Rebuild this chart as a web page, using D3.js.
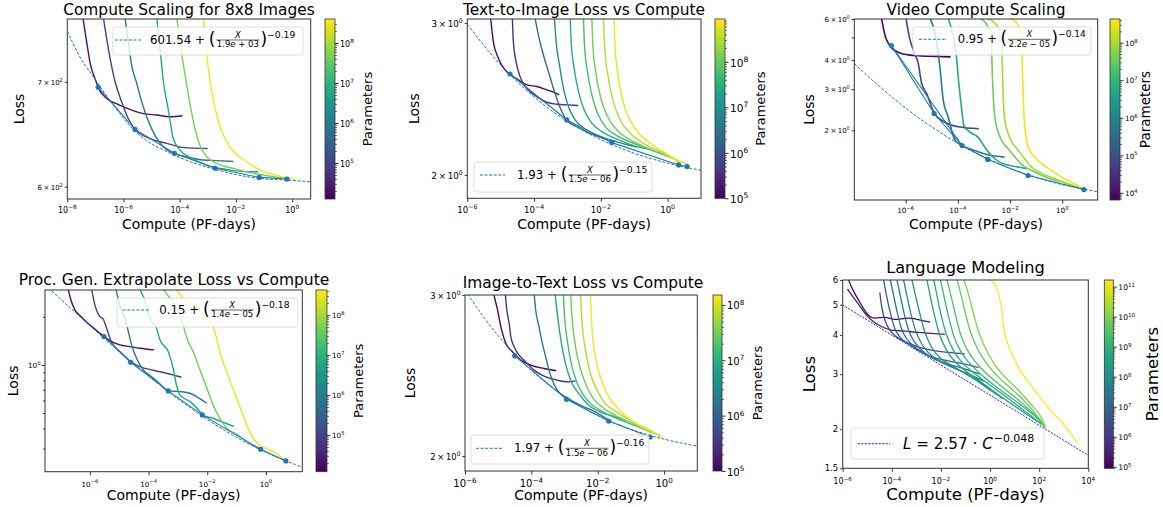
<!DOCTYPE html>
<html>
<head>
<meta charset="utf-8">
<script src="https://cdn.jsdelivr.net/npm/d3@7/dist/d3.min.js"></script>
<style>
  body { margin: 0; background: #fff; }
  text { font-family: "DejaVu Sans", sans-serif; fill: #000; white-space: pre; }
</style>
</head>
<body>
<svg id="fig" width="1163" height="507"></svg>
<script>
// every point is [log10(compute, PF-days), loss]

// --- 8x8 images
const p1Params = [2e4, 1e5, 8e5, 6.3e6, 5e7, 3.2e8];
const p1Runs = [
  [[-7.45,770],[-7.31,742],[-7.17,717],[-7.01,703],[-6.90,694],[-6.60,683],[-6.18,677],[-5.71,671.5],[-5.29,668],[-4.82,666.6],[-4.35,665],[-3.90,666]],
  [[-6.72,770],[-6.54,735],[-6.30,700],[-6.07,680],[-5.83,663],[-5.59,652.7],[-5.06,644],[-4.46,639.5],[-3.99,636],[-3.51,635],[-3.01,634.7]],
  [[-5.95,770],[-5.83,742],[-5.71,717],[-5.53,698.5],[-5.35,679.6],[-5.15,663],[-4.88,647],[-4.58,636],[-4.19,630],[-3.75,627],[-3.16,624],[-2.68,623.5],[-2.09,622.7]],
  [[-4.82,770],[-4.70,735],[-4.58,700],[-4.40,671],[-4.23,644],[-3.99,633.2],[-3.57,625.5],[-3.04,619.4],[-2.33,615.5],[-1.62,613.4],[-1.20,613.4]],
  [[-4.11,770],[-3.99,742],[-3.81,706.9],[-3.63,676.6],[-3.46,653.6],[-3.28,637.8],[-3.04,627],[-2.68,620.9],[-2.09,616.4],[-1.38,611.9],[-0.67,608.9],[-0.07,606.8]],
  [[-3.16,770],[-3.06,735],[-2.92,700],[-2.68,666.6],[-2.45,647.3],[-2.21,636],[-1.97,629],[-1.62,622.4],[-1.44,619.4],[-1.14,614.9],[-0.67,610.9],[-0.19,608],[0.10,606.8]]
];
const p1Frontier = [[-6.90,694.3],[-5.59,652.7],[-4.19,630.2],[-2.74,616.5],[-1.17,608.3],[-0.19,606.8]];
const p1Fit = [[-8.0,754],[-7.55,726],[-7.07,705],[-6.48,681],[-5.59,651],[-4.19,628.6],[-2.74,615.5],[-1.17,607.4],[-0.19,605.9],[0.66,604.4]];
const p1XTicks = [1e-8, 1e-6, 1e-4, 1e-2, 1];
const p1YTicks = [600, 700];
const p1CTicks = [1e5, 1e6, 1e7, 1e8];

// --- text-to-image
const p2Params = [1.2e5, 3.9e5, 2.4e6, 9.3e6, 2.75e7, 5.75e7, 1.17e8, 2.95e8, 6.6e8];
const p2Runs = [
  [[-5.30,3.04],[-5.22,2.855],[-5.07,2.731],[-4.87,2.647],[-4.72,2.616],[-4.47,2.577],[-4.22,2.543],[-3.92,2.532],[-3.62,2.509],[-3.42,2.494],[-3.25,2.476]],
  [[-4.65,3.04],[-4.62,2.855],[-4.54,2.707],[-4.42,2.600],[-4.22,2.520],[-3.92,2.465],[-3.62,2.428],[-3.32,2.415],[-3.02,2.411],[-2.67,2.407]],
  [[-3.97,3.04],[-3.87,2.905],[-3.72,2.754],[-3.57,2.635],[-3.42,2.520],[-3.27,2.421],[-3.12,2.347],[-3.02,2.316],[-2.62,2.265],[-2.22,2.225],[-1.82,2.199],[-1.52,2.186]],
  [[-3.39,3.04],[-3.34,2.855],[-3.24,2.683],[-3.12,2.520],[-2.97,2.400],[-2.77,2.316],[-2.47,2.261],[-2.07,2.221],[-1.62,2.190],[-1.12,2.163],[-0.92,2.155]],
  [[-2.92,3.04],[-2.89,2.855],[-2.80,2.659],[-2.67,2.498],[-2.50,2.380],[-2.27,2.296],[-1.97,2.245],[-1.57,2.205],[-1.02,2.163],[-0.62,2.144]],
  [[-2.52,3.04],[-2.49,2.830],[-2.40,2.635],[-2.27,2.476],[-2.10,2.359],[-1.87,2.275],[-1.52,2.221],[-1.02,2.176],[-0.42,2.132],[-0.02,2.110]],
  [[-2.27,3.04],[-2.24,2.830],[-2.14,2.612],[-2.00,2.454],[-1.80,2.337],[-1.52,2.255],[-1.12,2.196],[-0.62,2.151],[-0.12,2.110],[0.18,2.091]],
  [[-1.92,3.04],[-1.89,2.830],[-1.79,2.612],[-1.64,2.443],[-1.42,2.316],[-1.12,2.235],[-0.72,2.176],[-0.22,2.129],[0.18,2.088],[0.38,2.063]],
  [[-1.60,3.04],[-1.57,2.805],[-1.47,2.589],[-1.32,2.421],[-1.10,2.306],[-0.82,2.225],[-0.42,2.163],[-0.02,2.114],[0.38,2.073],[0.68,2.050]]
];
const p2Frontier = [[-4.72,2.618],[-3.02,2.316],[-1.67,2.180],[0.33,2.054],[0.58,2.045]];
const p2Fit = [[-6,2.99],[-5.5,2.824],[-5,2.682],[-4.5,2.563],[-4,2.463],[-3.5,2.378],[-3,2.307],[-2.5,2.247],[-2,2.197],[-1.5,2.155],[-1,2.119],[-0.5,2.089],[0,2.064],[0.5,2.043],[1,2.025]];
const p2XTicks = [1e-6, 1e-4, 1e-2, 1];
const p2YTicks = [2, 3];
const p2CTicks = [1e5, 1e6, 1e7, 1e8];

// --- video
const p3Params = [8.1e3, 5.9e4, 5.5e5, 5e6, 3.7e7, 9.1e7, 3.4e8];
const p3Runs = [
  [[-6.93,6.05],[-6.78,5.05],[-6.61,4.62],[-6.29,4.32],[-5.91,4.21],[-5.40,4.17],[-4.89,4.15],[-4.28,4.13]],
  [[-5.99,6.05],[-5.85,4.97],[-5.66,4.28],[-5.52,3.88],[-5.39,3.18],[-5.20,2.88],[-4.90,2.36],[-4.51,2.17],[-3.99,2.07],[-3.20,2.03]],
  [[-5.07,6.05],[-4.88,5.22],[-4.69,3.75],[-4.56,2.69],[-4.37,2.28],[-4.11,1.81],[-3.84,1.72],[-3.36,1.64],[-2.85,1.57],[-2.21,1.535]],
  [[-4.37,6.05],[-4.19,5.13],[-4.06,4.21],[-3.97,3.23],[-3.87,2.56],[-3.77,2.10],[-3.55,1.97],[-3.23,1.87],[-2.97,1.695],[-2.72,1.56],[-2.34,1.45],[-1.82,1.40],[-1.36,1.37]],
  [[-3.15,6.05],[-2.85,5.58],[-2.72,5.13],[-2.69,3.81],[-2.64,2.74],[-2.58,2.28],[-2.46,1.97],[-2.32,1.81],[-2.08,1.67],[-1.81,1.535],[-1.50,1.41],[-1.17,1.345],[-0.55,1.25],[0.09,1.19],[0.83,1.114]],
  [[-2.90,6.05],[-2.53,5.67],[-2.33,5.13],[-2.30,3.81],[-2.26,2.74],[-2.21,2.25],[-2.07,1.93],[-1.89,1.75],[-1.68,1.64],[-1.44,1.51],[-1.17,1.39],[-0.80,1.31],[-0.29,1.24],[0.22,1.18],[0.83,1.114]],
  [[-2.00,6.05],[-1.70,5.67],[-1.56,5.22],[-1.53,3.81],[-1.49,2.69],[-1.44,2.10],[-1.30,1.695],[-1.06,1.535],[-0.79,1.44],[-0.42,1.345],[-0.02,1.26],[0.47,1.18],[0.81,1.114]]
];
const p3Frontier = [[-6.55,4.62],[-4.91,2.36],[-3.84,1.72],[-2.85,1.50],[-1.31,1.28],[0.83,1.114]];
const p3Bridge = [[-6.55,4.62],[-3.84,1.72]];
const p3Fit = [[-7.97,3.87],[-7.5,3.45],[-7,3.08],[-6.5,2.76],[-6,2.49],[-5.5,2.26],[-5,2.07],[-4.5,1.90],[-4,1.76],[-3.5,1.64],[-3,1.54],[-2.5,1.45],[-2,1.37],[-1.5,1.31],[-1,1.26],[-0.5,1.21],[0,1.17],[0.5,1.14],[1,1.11],[1.36,1.09]];
const p3XTicks = [1e-6, 1e-4, 1e-2, 1];
const p3YTicks = [2, 3, 4, 5, 6];
const p3YLabels = [2, 3, 4, 6];
const p3CTicks = [1e4, 1e5, 1e6, 1e7, 1e8];

// --- procgen extrapolation
const p4Params = [1.7e4, 9.8e4, 7.9e5, 6.5e6, 4.3e7, 3.1e8];
const p4Runs = [
  [[-6.74,2.97],[-6.63,2.49],[-6.51,2.207],[-6.34,2.034],[-6.11,1.848],[-5.89,1.711],[-5.66,1.577],[-5.52,1.503],[-5.26,1.399],[-4.98,1.334],[-4.64,1.302],[-4.30,1.271],[-3.81,1.241]],
  [[-5.94,2.97],[-5.83,2.371],[-5.66,2.005],[-5.55,1.939],[-5.43,1.694],[-5.26,1.386],[-4.98,1.212],[-4.61,1.049],[-4.30,0.976],[-3.84,0.926],[-3.39,0.887],[-2.88,0.837]],
  [[-5.11,2.97],[-4.98,2.371],[-4.81,1.957],[-4.69,1.616],[-4.58,1.334],[-4.41,1.101],[-4.18,0.931],[-3.95,0.858],[-3.67,0.779],[-3.33,0.688],[-2.93,0.681],[-2.59,0.665],[-2.31,0.625],[-2.02,0.576]],
  [[-4.30,2.97],[-4.07,2.371],[-3.95,1.957],[-3.73,1.694],[-3.61,1.433],[-3.33,1.212],[-3.16,0.953],[-3.05,0.750],[-2.93,0.649],[-2.59,0.590],[-2.25,0.511],[-2.17,0.487],[-1.80,0.464],[-1.51,0.442],[-1.09,0.412]],
  [[-3.50,2.97],[-3.27,2.61],[-3.05,2.26],[-2.88,1.957],[-2.76,1.616],[-2.65,1.399],[-2.48,1.212],[-2.31,1.0],[-2.14,0.825],[-1.97,0.681],[-1.80,0.562],[-1.57,0.464],[-1.34,0.402],[-1.00,0.369],[-0.66,0.332],[-0.18,0.297]],
  [[-3.05,2.97],[-2.82,2.61],[-2.48,2.371],[-2.14,2.053],[-1.91,1.866],[-1.74,1.616],[-1.63,1.334],[-1.51,1.101],[-1.34,0.908],[-1.17,0.750],[-1.00,0.619],[-0.83,0.511],[-0.66,0.422],[-0.43,0.348],[-0.15,0.309],[0.14,0.294],[0.42,0.274],[0.68,0.251]]
];
const p4Frontier = [[-5.52,1.503],[-4.61,1.039],[-3.33,0.688],[-2.17,0.487],[-0.18,0.297],[0.68,0.251]];
const p4Fit = [[-7.53,3.18],[-7,2.58],[-6.5,2.13],[-6,1.758],[-5.5,1.457],[-5,1.212],[-4.5,1.014],[-4,0.852],[-3.5,0.721],[-3,0.614],[-2.5,0.527],[-2,0.456],[-1.5,0.399],[-1,0.3525],[-0.5,0.3146],[0,0.284],[0.5,0.2587],[1,0.2384],[1.24,0.230]];
const p4XTicks = [1e-6, 1e-4, 1e-2, 1];
const p4YTicks = [1];
const p4YMinor = [0.3, 0.4, 0.5, 0.6, 0.7, 0.8, 0.9, 2];
const p4CTicks = [1e5, 1e6, 1e7, 1e8];

// --- image-to-text
const p5Params = [1.15e5, 3e5, 1.9e6, 8.1e6, 1.7e7, 3e7, 6.3e7, 1.3e8];
const p5Runs = [
  [[-5.15,3.02],[-5.02,2.889],[-4.92,2.770],[-4.77,2.656],[-4.57,2.600],[-4.32,2.547],[-4.02,2.514],[-3.62,2.493],[-3.25,2.479]],
  [[-4.79,3.02],[-4.74,2.889],[-4.67,2.794],[-4.62,2.701],[-4.52,2.634],[-4.37,2.578],[-4.17,2.535],[-3.92,2.483],[-3.62,2.446],[-3.22,2.421],[-2.92,2.411],[-2.67,2.417]],
  [[-3.92,3.02],[-3.87,2.889],[-3.77,2.770],[-3.67,2.656],[-3.57,2.568],[-3.47,2.483],[-3.37,2.421],[-3.22,2.361],[-2.94,2.318],[-2.52,2.272],[-2.12,2.240],[-1.67,2.190]],
  [[-3.29,3.02],[-3.22,2.864],[-3.14,2.724],[-3.04,2.590],[-2.92,2.483],[-2.77,2.401],[-2.57,2.340],[-2.32,2.282],[-1.92,2.234],[-1.52,2.210],[-1.17,2.188]],
  [[-3.04,3.02],[-3.00,2.841],[-2.92,2.679],[-2.82,2.547],[-2.69,2.442],[-2.52,2.361],[-2.27,2.292],[-1.92,2.244],[-1.52,2.206],[-1.02,2.169],[-0.62,2.142]],
  [[-2.82,3.02],[-2.77,2.817],[-2.67,2.634],[-2.54,2.504],[-2.37,2.401],[-2.17,2.321],[-1.87,2.263],[-1.47,2.216],[-0.92,2.169],[-0.42,2.124],[-0.12,2.106]],
  [[-2.52,3.02],[-2.47,2.794],[-2.37,2.611],[-2.22,2.462],[-2.02,2.361],[-1.77,2.282],[-1.42,2.234],[-0.92,2.178],[-0.42,2.133],[-0.22,2.112]],
  [[-2.22,3.02],[-2.17,2.747],[-2.07,2.568],[-1.92,2.442],[-1.72,2.340],[-1.47,2.272],[-1.12,2.206],[-0.72,2.160],[-0.37,2.124],[-0.04,2.094]]
];
const p5Frontier = [[-4.50,2.574],[-2.94,2.307],[-1.67,2.184],[-0.42,2.098]];
const p5Fit = [[-6,3.037],[-5.5,2.858],[-5,2.708],[-4.5,2.584],[-4,2.481],[-3.5,2.395],[-3,2.323],[-2.5,2.264],[-2,2.214],[-1.5,2.173],[-1,2.139],[-0.5,2.111],[0,2.087],[0.5,2.067],[1,2.051]];
const p5XTicks = [1e-6, 1e-4, 1e-2, 1];
const p5YTicks = [2, 3];
const p5CTicks = [1e5, 1e6, 1e7, 1e8];

// --- language modeling
const p6Params = [1.3e5, 3.2e5, 2e6, 6.3e6, 1.6e7, 3.2e7, 6.3e7, 1.3e8, 3.2e8, 6.3e8, 1.3e9, 2.5e9, 5e9, 1e10, 1.75e11];
const p6Runs = [
  [[-5.78,6.05],[-5.58,5.57],[-5.38,5.22],[-5.17,4.89],[-4.97,4.64],[-4.70,4.53],[-4.29,4.56],[-3.88,4.49],[-3.34,4.53],[-2.79,4.46],[-2.44,4.40]],
  [[-5.81,5.61],[-5.58,5.30],[-5.31,4.96],[-5.04,4.64],[-4.76,4.42],[-4.42,4.26],[-4.02,4.15],[-3.47,4.12],[-2.93,4.08],[-2.39,4.05],[-1.84,4.02]],
  [[-4.49,5.47],[-4.40,4.87],[-4.26,4.42],[-4.08,4.15],[-3.81,3.95],[-3.47,3.81],[-2.93,3.67],[-2.39,3.58],[-1.71,3.52],[-1.03,3.48]],
  [[-4.34,6.05],[-4.22,5.37],[-4.04,4.64],[-3.88,4.20],[-3.68,3.95],[-3.34,3.76],[-2.93,3.58],[-2.39,3.41],[-1.71,3.31],[-1.03,3.23],[-0.47,3.15]],
  [[-4.07,6.05],[-3.93,5.37],[-3.77,4.69],[-3.61,4.20],[-3.40,3.90],[-3.13,3.70],[-2.73,3.52],[-2.25,3.36],[-1.71,3.23],[-1.03,3.12],[-0.42,3.00]],
  [[-3.80,6.05],[-3.66,5.37],[-3.50,4.69],[-3.34,4.20],[-3.13,3.86],[-2.86,3.63],[-2.45,3.41],[-1.98,3.27],[-1.43,3.13],[-0.76,2.98],[-0.21,2.84]],
  [[-3.53,6.05],[-3.39,5.37],[-3.23,4.69],[-3.04,4.15],[-2.79,3.76],[-2.52,3.52],[-2.11,3.33],[-1.57,3.17],[-1.03,3.02],[-0.48,2.85],[0.06,2.67]],
  [[-3.19,6.05],[-3.04,5.37],[-2.86,4.69],[-2.66,4.10],[-2.39,3.67],[-2.05,3.39],[-1.57,3.20],[-1.03,3.02],[-0.48,2.84],[0.06,2.65],[0.54,2.50]],
  [[-2.58,6.05],[-2.43,5.30],[-2.25,4.58],[-2.05,4.00],[-1.77,3.58],[-1.43,3.29],[-0.96,3.06],[-0.42,2.85],[0.13,2.65],[0.74,2.45],[1.35,2.27],[1.96,2.11]],
  [[-2.30,6.05],[-2.15,5.30],[-1.98,4.58],[-1.77,4.00],[-1.50,3.58],[-1.14,3.27],[-0.69,3.04],[-0.14,2.82],[0.47,2.60],[1.08,2.39],[1.62,2.22],[2.10,2.07]],
  [[-2.03,6.05],[-1.87,5.30],[-1.69,4.58],[-1.49,4.00],[-1.22,3.58],[-0.86,3.27],[-0.42,3.02],[0.13,2.78],[0.74,2.56],[1.35,2.36],[1.89,2.18],[2.21,2.04]],
  [[-1.76,6.05],[-1.58,5.30],[-1.39,4.58],[-1.19,4.00],[-0.92,3.58],[-0.55,3.25],[-0.08,2.98],[0.47,2.74],[1.08,2.51],[1.62,2.30],[2.10,2.11],[2.23,2.03]],
  [[-1.35,6.05],[-1.18,5.37],[-1.00,4.69],[-0.80,4.10],[-0.52,3.63],[-0.14,3.25],[0.33,2.94],[0.88,2.69],[1.42,2.45],[1.89,2.22],[2.23,2.02]],
  [[-1.08,6.05],[-0.89,5.44],[-0.71,4.81],[-0.51,4.20],[-0.25,3.72],[0.13,3.27],[0.60,2.94],[1.15,2.67],[1.69,2.39],[2.10,2.17],[2.26,2.02]],
  [[-0.06,6.05],[0.20,5.78],[0.36,5.37],[0.47,4.87],[0.56,4.20],[0.74,3.72],[0.94,3.41],[1.21,3.10],[1.55,2.84],[1.96,2.57],[2.30,2.38],[2.64,2.22],[2.98,2.08],[3.32,1.92],[3.57,1.80]]
];
const p6Fit = [[-6,4.99],[4,1.65]];
const p6XTicks = [1e-6, 1e-4, 1e-2, 1, 1e2, 1e4];
const p6YTicks = [1.5, 2, 3, 4, 5, 6];
const p6CTicks = [1e5, 1e6, 1e7, 1e8, 1e9, 1e10, 1e11];

const AX = "#333";
const FIT = "#1f77b4";
const NB = "\u00a0";

const panels = [
  { title: "Compute Scaling for 8x8 Images", runs: p1Runs, params: p1Params, frontier: p1Frontier, fit: p1Fit,
    xTicks: p1XTicks, yTicks: p1YTicks, yLabels: p1YTicks, cTicks: p1CTicks,
    box: [67.3, 19, 310.7, 199], xDom: [-8, 0.66], yDom: [589.3, 767.6], cb: [325, 335], cDom: [4.1, 8.6],
    fs: { title: 15.4, label: 14, xt: 8, yt: 7, cb: 8, cbl: 13 },
    pos: { title: [189, 14.5], ylab: 24, xlab: 229, cbl: 371.7, xt: 14 },
    legend: { box: [113, 27, 303, 55], dash: [115, 141], dy: 40, tx: 150, fs: 11.8, c: "601.54", d1: "1.9", d2: " + 03", e: "\u22120.19" } },
  { title: "Text-to-Image Loss vs Compute", runs: p2Runs, params: p2Params, frontier: p2Frontier, fit: p2Fit,
    xTicks: p2XTicks, yTicks: p2YTicks, yLabels: p2YTicks, cTicks: p2CTicks,
    box: [467.3, 19, 701, 198.3], xDom: [-6, 1], yDom: [1.879, 3.032], cb: [715, 725], cDom: [5, 8.94],
    fs: { title: 15.4, label: 14, xt: 8.6, yt: 8.7, cb: 10.5, cbl: 13 },
    pos: { title: [584, 15], ylab: 419, xlab: 229, cbl: 765, xt: 14.7 },
    legend: { box: [474, 162, 652, 192], dash: [480, 505], dy: 175, tx: 517, fs: 11.8, c: "1.93", d1: "1.5", d2: " \u2212 06", e: "\u22120.15" } },
  { title: "Video Compute Scaling", runs: p3Runs, params: p3Params, frontier: p3Frontier, bridge: p3Bridge, fit: p3Fit,
    xTicks: p3XTicks, yTicks: p3YTicks, yLabels: p3YLabels, cTicks: p3CTicks, lw: 1.6,
    box: [854.3, 19, 1097.7, 200], xDom: [-7.97, 1.36], yDom: [1.005, 6.0], cb: [1110, 1120], cDom: [3.81, 8.63],
    fs: { title: 15.4, label: 14, xt: 7.3, yt: 7, cb: 7.3, cbl: 13.5 },
    pos: { title: [976, 14.5], ylab: 814, xlab: 229, cbl: 1150, xt: 13 },
    legend: { box: [913, 27, 1091, 55], dash: [919, 947], dy: 39.3, tx: 957.7, fs: 11.6, c: "0.95", d1: "2.2", d2: " \u2212 05", e: "\u22120.14" } },
  { title: "Proc. Gen. Extrapolate Loss vs Compute", runs: p4Runs, params: p4Params, frontier: p4Frontier, fit: p4Fit,
    xTicks: p4XTicks, yTicks: p4YTicks, yLabels: p4YTicks, yMinor: p4YMinor, cTicks: p4CTicks,
    box: [45, 290, 302.3, 471.7], xDom: [-7.53, 1.24], yDom: [0.215, 2.94], cb: [316, 327], cDom: [4.08, 8.63],
    fs: { title: 15.5, label: 14, xt: 7.2, yt: 7.2, cb: 7.2, cbl: 13 },
    pos: { title: [174, 285], ylab: 18.3, xlab: 500, cbl: 363, xt: 15 },
    legend: { box: [117, 298, 298, 327], dash: [122.7, 150], dy: 310, tx: 159.3, fs: 11.8, c: "0.15", d1: "1.4", d2: " \u2212 05", e: "\u22120.18" } },
  { title: "Image-to-Text Loss vs Compute", runs: p5Runs, params: p5Params, frontier: p5Frontier, fit: p5Fit,
    xTicks: p5XTicks, yTicks: p5YTicks, yLabels: p5YTicks, cTicks: p5CTicks,
    box: [465, 295, 697.3, 471], xDom: [-6, 1], yDom: [1.926, 3.0], cb: [713, 722], cDom: [5, 8.18],
    fs: { title: 15.4, label: 14, xt: 10, yt: 8.4, cb: 10, cbl: 13 },
    pos: { title: [583, 287.5], ylab: 415, xlab: 500, cbl: 762, xt: 16 },
    legend: { box: [471, 435, 649, 464], dash: [476, 503], dy: 448.3, tx: 514, fs: 11.8, c: "1.97", d1: "1.5", d2: " \u2212 06", e: "\u22120.16" } },
  { title: "Language Modeling", runs: p6Runs, params: p6Params, fit: p6Fit, plainY: true,
    xTicks: p6XTicks, yTicks: p6YTicks, yLabels: p6YTicks, cTicks: p6CTicks, lw: 1.3,
    box: [842.7, 280, 1088.3, 468.3], xDom: [-6, 4], yDom: [1.5, 6], cb: [1104.3, 1113.3], cDom: [4.95, 11.22],
    fitColor: "#1a1aff", fitDash: "2,1.3",
    fs: { title: 16.2, label: 16.6, xt: 8, yt: 8.5, cb: 7.6, cbl: 16.5 },
    pos: { title: [965.5, 273.3], ylab: 815, xlab: 500, cbl: 1158, xt: 16 },
    legend: { power: true, box: [851, 428, 1044, 459], dash: [857.7, 890], dy: 443.7, tx: 903, fs: 15.2, c: "2.57", e: "\u22120.048" } }
];

const svg = d3.select("#fig");
const defs = svg.append("defs");
const grad = defs.append("linearGradient").attr("id", "viridis")
  .attr("x1", 0).attr("y1", 1).attr("x2", 0).attr("y2", 0);
d3.range(0, 1.0001, 0.05).forEach(t =>
  grad.append("stop").attr("offset", t).attr("stop-color", d3.interpolateViridis(t)));

function sciParts(v) {
  const e = Math.floor(Math.log10(v) + 1e-9);
  const m = Math.round(v / Math.pow(10, e));
  return [m === 1 ? "10" : m + "\u2009\u00d7\u200910", e < 0 ? "\u2212" + (-e) : String(e)];
}

function supText(sel, lead, exp, fs) {
  sel.style("font-size", fs + "px");
  sel.append("tspan").text(lead);
  sel.append("tspan").attr("dy", -0.45 * fs).style("font-size", (fs * 0.72) + "px").text(exp);
}

function fitLegend(g, L, color, dashes) {
  g.append("rect").attr("x", L.box[0]).attr("y", L.box[1])
    .attr("width", L.box[2] - L.box[0]).attr("height", L.box[3] - L.box[1])
    .attr("rx", 2.5).attr("fill", "#fff").attr("fill-opacity", 0.8)
    .attr("stroke", "#d4d4d4").attr("stroke-width", 0.8);
  g.append("line").attr("x1", L.dash[0]).attr("x2", L.dash[1]).attr("y1", L.dy).attr("y2", L.dy)
    .attr("stroke", color).attr("stroke-width", 1).attr("stroke-dasharray", dashes);

  const fs = L.fs;
  let cx = L.tx;
  const put = (str, size, yy, italic) => {
    const t = g.append("text").attr("x", cx).attr("y", yy).style("font-size", size + "px")
      .text(str.replace(/ /g, NB));
    if (italic) t.style("font-style", "italic");
    return t.node().getComputedTextLength();
  };
  const base = L.dy + 0.34 * fs;

  if (L.power) {
    cx += put("L", fs, base, true);
    cx += put(" = " + L.c + " \u00b7 ", fs, base);
    cx += put("C", fs, base, true) + 1;
    put(L.e, fs * 0.72, base - 0.42 * fs);
    return;
  }

  cx += put(L.c + " + ", fs, base);
  const pf = fs * 1.45;
  cx += put("(", pf, L.dy + 0.3 * pf);
  const ff = fs * 0.72;
  const num = g.append("text").style("font-size", ff + "px").style("font-style", "italic").text("X");
  const den = g.append("text").style("font-size", ff + "px");
  den.append("tspan").text(L.d1);
  den.append("tspan").style("font-style", "italic").text("e");
  den.append("tspan").text(L.d2.replace(/ /g, NB));
  const wn = num.node().getComputedTextLength();
  const wd = den.node().getComputedTextLength();
  const w = Math.max(wn, wd) + 3;
  num.attr("x", cx + (w - wn) / 2).attr("y", L.dy - 0.2 * fs);
  den.attr("x", cx + (w - wd) / 2).attr("y", L.dy + 0.72 * ff + 1.2);
  g.append("line").attr("x1", cx + 1).attr("x2", cx + w - 1).attr("y1", L.dy).attr("y2", L.dy)
    .attr("stroke", "#000").attr("stroke-width", 0.6);
  cx += w;
  cx += put(")", pf, L.dy + 0.3 * pf);
  put(L.e, fs * 0.78, L.dy - 0.2 * fs);
}

function drawPanel(P, idx) {
  const [bx0, by0, bx1, by1] = P.box;
  const x = d3.scaleLog().domain([Math.pow(10, P.xDom[0]), Math.pow(10, P.xDom[1])]).range([bx0, bx1]);
  const y = d3.scaleLog().domain(P.yDom).range([by1, by0]);
  const cpos = d3.scaleLog().domain([Math.pow(10, P.cDom[0]), Math.pow(10, P.cDom[1])]).range([0, 1]);

  const g = svg.append("g");
  defs.append("clipPath").attr("id", "clip" + idx).append("rect")
    .attr("x", bx0).attr("y", by0).attr("width", bx1 - bx0).attr("height", by1 - by0);
  const plot = g.append("g").attr("clip-path", "url(#clip" + idx + ")");

  const smooth = d3.line().x(d => x(Math.pow(10, d[0]))).y(d => y(d[1])).curve(d3.curveMonotoneX);
  const straight = d3.line().x(d => x(Math.pow(10, d[0]))).y(d => y(d[1]));

  P.runs.forEach((r, i) => {
    plot.append("path").attr("d", smooth(r)).attr("fill", "none")
      .attr("stroke", d3.interpolateViridis(cpos(P.params[i])))
      .attr("stroke-width", P.lw || 1.4).attr("stroke-linejoin", "round");
  });

  if (P.frontier) {
    plot.append("path").attr("d", straight(P.frontier)).attr("fill", "none")
      .attr("stroke", FIT).attr("stroke-width", 1.1);
    if (P.bridge) {
      plot.append("path").attr("d", straight(P.bridge)).attr("fill", "none")
        .attr("stroke", FIT).attr("stroke-width", 1.1);
    }
    plot.selectAll(null).data(P.frontier).enter().append("circle")
      .attr("cx", d => x(Math.pow(10, d[0]))).attr("cy", d => y(d[1]))
      .attr("r", 2.6).attr("fill", FIT);
  }

  const fitColor = P.fitColor || FIT;
  const fitDash = P.fitDash || "3,1.6";
  plot.append("path").attr("d", (P.fit.length > 2 ? smooth : straight)(P.fit)).attr("fill", "none")
    .attr("stroke", fitColor).attr("stroke-width", 1).attr("stroke-dasharray", fitDash);

  // frame
  g.append("rect").attr("x", bx0).attr("y", by0).attr("width", bx1 - bx0).attr("height", by1 - by0)
    .attr("fill", "none").attr("stroke", AX).attr("stroke-width", 1);

  // x axis
  const xa = g.append("g").attr("transform", "translate(0," + by1 + ")")
    .call(d3.axisBottom(x).tickValues(P.xTicks).tickSize(3.5).tickSizeOuter(0).tickFormat(""));
  xa.select(".domain").remove();
  xa.selectAll("line").attr("stroke", AX);
  P.xTicks.forEach(v => {
    const t = g.append("text").attr("x", x(v)).attr("y", by1 + P.pos.xt).attr("text-anchor", "middle");
    supText(t, "10", sciParts(v)[1], P.fs.xt);
  });

  // y axis
  const ya = g.append("g").attr("transform", "translate(" + bx0 + ",0)")
    .call(d3.axisLeft(y).tickValues(P.yTicks).tickSize(P.yMinor ? 3.5 : 2.6).tickSizeOuter(0).tickFormat(""));
  ya.select(".domain").remove();
  ya.selectAll("line").attr("stroke", AX);
  if (P.yMinor) {
    const ym = g.append("g").attr("transform", "translate(" + bx0 + ",0)")
      .call(d3.axisLeft(y).tickValues(P.yMinor).tickSize(2).tickSizeOuter(0).tickFormat(""));
    ym.select(".domain").remove();
    ym.selectAll("line").attr("stroke", AX);
  }
  P.yLabels.forEach(v => {
    const t = g.append("text").attr("x", bx0 - 4.5).attr("text-anchor", "end");
    if (P.plainY) {
      t.attr("y", y(v) + 0.36 * P.fs.yt).style("font-size", P.fs.yt + "px").text(String(v));
    } else {
      t.attr("y", y(v) + 0.42 * P.fs.yt);
      const parts = sciParts(v);
      supText(t, parts[0], parts[1], P.fs.yt);
    }
  });

  // colorbar
  const [c0, c1] = P.cb;
  const cy = d3.scaleLog().domain([Math.pow(10, P.cDom[0]), Math.pow(10, P.cDom[1])]).range([by1, by0]);
  g.append("rect").attr("x", c0).attr("y", by0).attr("width", c1 - c0).attr("height", by1 - by0)
    .attr("fill", "url(#viridis)");
  g.append("rect").attr("x", c0).attr("y", by0).attr("width", c1 - c0).attr("height", by1 - by0)
    .attr("fill", "none").attr("stroke", AX).attr("stroke-width", 0.8);
  const minor = [];
  for (let k = Math.floor(P.cDom[0]); k <= Math.ceil(P.cDom[1]); k++) {
    for (let m = 2; m <= 9; m++) {
      const v = m * Math.pow(10, k);
      if (Math.log10(v) > P.cDom[0] && Math.log10(v) < P.cDom[1]) minor.push(v);
    }
  }
  const cmin = g.append("g").attr("transform", "translate(" + c1 + ",0)")
    .call(d3.axisRight(cy).tickValues(minor).tickSize(2).tickSizeOuter(0).tickFormat(""));
  cmin.select(".domain").remove();
  cmin.selectAll("line").attr("stroke", AX).attr("stroke-width", 0.7);
  const cmaj = g.append("g").attr("transform", "translate(" + c1 + ",0)")
    .call(d3.axisRight(cy).tickValues(P.cTicks).tickSize(3.5).tickSizeOuter(0).tickFormat(""));
  cmaj.select(".domain").remove();
  cmaj.selectAll("line").attr("stroke", AX);
  P.cTicks.forEach(v => {
    const t = g.append("text").attr("x", c1 + 5).attr("y", cy(v) + 0.45 * P.fs.cb);
    supText(t, "10", sciParts(v)[1], P.fs.cb);
  });

  // texts
  g.append("text").attr("x", P.pos.title[0]).attr("y", P.pos.title[1]).attr("text-anchor", "middle")
    .style("font-size", P.fs.title + "px").text(P.title);
  g.append("text").attr("transform", "translate(" + P.pos.ylab + "," + ((by0 + by1) / 2) + ") rotate(-90)")
    .attr("text-anchor", "middle").style("font-size", P.fs.label + "px").text("Loss");
  g.append("text").attr("x", (bx0 + bx1) / 2).attr("y", P.pos.xlab).attr("text-anchor", "middle")
    .style("font-size", P.fs.label + "px").text("Compute (PF-days)");
  g.append("text").attr("transform", "translate(" + P.pos.cbl + "," + ((by0 + by1) / 2) + ") rotate(-90)")
    .attr("text-anchor", "middle").style("font-size", P.fs.cbl + "px").text("Parameters");

  fitLegend(g.append("g"), P.legend, fitColor, P.legend.power ? "2.2,1.3" : "3,1.6");
}

panels.forEach((P, i) => drawPanel(P, i));
</script>
</body>
</html>
